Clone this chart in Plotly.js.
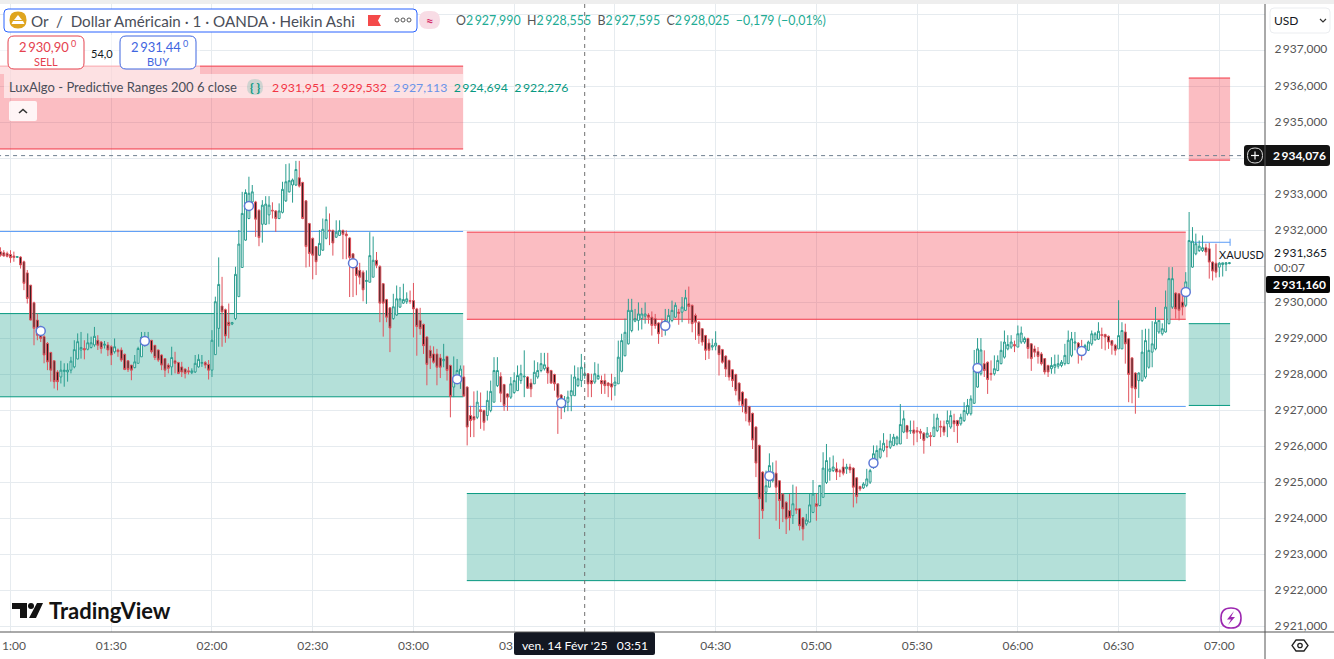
<!DOCTYPE html>
<html><head><meta charset="utf-8">
<script src="https://cdn.plot.ly/plotly-3.0.1.min.js"></script>
<style>html,body{margin:0;padding:0;background:#fff;overflow:hidden}#chart{width:1334px;height:659px}</style>
</head><body><div id="chart"></div>
<script>
// prices are stored as offsets from basePrice; each row is [open, high, low, close]
const basePrice = 2900;
const bars0057 = [[31.41,31.53,31.27,31.31],[31.38,31.45,31.27,31.29],[31.36,31.41,31.25,31.28],[31.33,31.45,31.10,31.24],[31.29,31.41,31.13,31.25],[31.25,31.28,31.25,31.27],[31.26,31.28,30.94,31.04],[31.13,31.16,30.34,30.53],[30.82,30.90,29.97,30.11],[30.48,30.48,29.50,29.51],[29.99,30.02,28.81,29.28],[29.51,29.69,28.95,29.09],[29.32,29.35,28.90,29.00],[29.05,29.09,28.31,28.54],[28.86,28.90,28.12,28.35],[28.61,28.63,27.80,28.12],[28.38,28.40,27.61,27.80],[28.07,28.12,27.56,27.80],[27.93,28.38,27.75,28.12],[28.08,28.31,27.66,28.12],[28.07,28.31,27.80,28.12],[28.12,28.49,28.03,28.37],[28.21,28.95,28.17,28.69],[28.43,29.14,28.42,28.91],[28.68,29.18,28.44,28.75],[28.72,28.95,28.42,28.68],[28.70,29.14,28.67,28.88],[28.75,29.05,28.72,28.88],[28.82,29.32,28.77,29.06],[28.95,29.09,28.68,28.81],[28.90,28.93,28.58,28.72],[28.81,28.93,28.72,28.84],[28.82,28.90,28.51,28.68]];
const bars0130 = [[28.77,28.81,28.26,28.54],[28.63,29.00,28.58,28.77],[28.68,28.72,28.49,28.63],[28.68,28.75,28.35,28.40],[28.56,28.58,28.12,28.14],[28.38,28.40,28.07,28.14],[28.26,28.26,27.84,28.12],[28.19,28.54,28.17,28.35],[28.31,28.77,28.31,28.72],[28.49,29.18,28.49,29.03],[28.81,29.18,28.77,29.00],[28.90,29.18,28.86,28.97],[28.95,28.95,28.58,28.63],[28.81,28.81,28.40,28.47],[28.68,28.69,28.35,28.40],[28.54,28.56,28.12,28.26],[28.44,28.44,27.93,28.12],[28.26,28.31,28.03,28.17],[28.21,28.77,27.98,28.47],[28.38,28.63,28.03,28.31],[28.33,28.35,28.01,28.03],[28.21,28.35,27.93,28.07],[28.15,28.17,27.89,28.03],[28.10,28.21,28.00,28.07],[28.05,28.17,28.01,28.10],[28.07,28.54,28.04,28.31],[28.21,28.56,28.19,28.42],[28.31,28.54,28.21,28.33],[28.33,28.37,28.17,28.26],[28.28,28.40,27.86,28.12]];
const bars0200 = [[28.12,29.23,27.93,28.95],[28.55,30.16,28.55,30.02],[29.28,31.25,28.77,30.50],[29.90,30.71,28.77,29.74],[29.80,29.83,28.88,29.07],[29.45,29.97,29.00,29.36],[29.40,29.46,29.37,29.44],[29.55,30.99,29.51,30.78],[30.16,32.01,30.16,31.62],[30.97,33.07,30.97,32.47],[31.73,33.14,31.71,33.05],[32.33,33.49,32.31,33.03],[32.79,33.26,32.75,33.07],[32.79,32.82,31.82,32.31],[32.56,32.58,31.56,31.80],[32.17,32.84,31.66,32.70],[32.17,32.95,32.15,32.73],[32.43,32.95,32.17,32.70],[32.56,32.78,32.33,32.54],[32.54,32.56,31.96,32.33],[32.33,32.75,32.31,32.54],[32.50,33.35,32.47,33.14],[32.82,33.84,32.79,33.35],[33.07,33.86,33.05,33.38],[33.26,33.44,32.77,33.40],[33.26,33.93,33.23,33.69],[33.46,33.93,33.19,33.23],[33.33,33.35,32.31,32.33],[32.82,32.84,30.97,31.55],[32.19,32.21,30.99,31.36]];
const bars0230 = [[31.78,31.80,30.64,31.31],[31.55,31.56,30.76,31.13],[31.31,32.01,31.29,31.64],[31.45,32.33,31.43,32.03],[31.78,32.66,31.75,32.30],[32.01,32.47,31.59,31.99],[32.00,32.02,31.30,31.65],[31.81,32.28,31.79,31.95],[31.86,32.28,31.86,32.00],[32.00,32.02,31.20,31.89],[31.90,32.00,31.20,31.85],[31.79,31.81,30.15,31.25],[31.35,31.35,30.15,31.20],[30.98,31.12,30.20,30.75],[30.89,31.10,30.50,30.70],[30.84,30.89,30.03,30.35],[30.58,30.89,29.96,30.61],[30.56,31.95,30.56,31.30],[30.70,31.83,30.70,31.17],[31.17,31.40,30.95,31.03],[31.00,31.03,29.45,29.98],[30.52,30.54,29.05,29.98],[30.08,30.10,29.45,29.59],[29.85,29.87,28.62,29.29],[29.55,30.24,29.52,29.88],[29.65,30.47,29.63,30.10],[29.87,30.43,29.85,30.10],[29.98,30.52,29.96,30.08],[30.02,30.28,29.96,30.10],[30.05,30.33,29.96,30.03]];
const bars0300 = [[30.05,30.54,29.03,29.82],[29.82,29.85,28.52,29.33],[29.50,29.85,29.10,29.27],[29.39,29.41,28.57,28.80],[29.04,29.06,27.70,28.28],[28.67,28.80,28.15,28.46],[28.57,28.78,28.30,28.34],[28.57,28.71,27.70,28.20],[28.46,28.57,27.90,28.20],[28.38,28.85,28.20,28.42],[28.50,28.52,27.83,28.11],[28.25,28.27,26.81,27.39],[27.65,28.50,27.37,27.90],[27.88,28.43,27.79,28.11],[27.93,28.25,27.60,28.15],[27.93,28.25,27.37,27.40],[27.65,27.67,26.03,26.54],[26.86,27.13,26.26,26.72],[26.83,27.53,26.26,26.74],[26.81,27.55,26.76,27.23],[27.02,27.50,26.49,26.97],[27.00,27.02,26.44,26.67],[26.86,27.55,26.72,27.28],[27.00,27.83,26.95,27.53],[27.23,28.48,27.23,28.11],[27.69,28.48,27.65,28.11],[27.94,28.06,27.23,27.48],[27.72,27.74,26.99,27.14],[27.46,27.48,26.99,27.37],[27.37,27.93,27.32,27.74]];
const bars0330 = [[27.50,28.06,27.46,27.83],[27.55,28.25,27.55,27.97],[27.83,28.27,27.74,28.02],[27.93,28.67,27.37,27.95],[27.93,27.95,27.60,27.62],[27.76,27.88,27.37,27.60],[27.74,28.39,27.74,28.06],[27.93,28.34,27.88,28.11],[28.11,28.60,28.06,28.30],[28.16,28.60,28.11,28.27],[28.20,28.60,27.74,28.04],[28.11,28.13,27.74,27.76],[28.00,28.02,27.55,27.74],[27.74,27.74,26.35,27.37],[27.43,27.45,26.76,27.25],[27.09,27.40,26.95,27.28],[27.23,27.55,26.98,27.37],[27.41,28.00,26.98,27.55],[27.41,28.25,27.41,27.93],[27.69,28.20,27.65,27.88],[27.83,28.57,27.65,28.20],[27.97,28.34,27.88,28.02],[28.02,28.04,27.37,27.74],[27.83,28.02,27.37,27.74],[27.79,28.34,27.74,28.02],[27.88,28.30,27.85,27.97],[27.83,27.97,27.46,27.74],[27.83,28.02,27.46,27.69],[27.76,27.79,27.37,27.69],[27.74,28.02,27.28,27.65]];
const bars0400 = [[27.69,27.93,27.41,27.79],[27.74,28.94,27.74,28.48],[28.09,29.13,28.06,28.94],[28.52,29.55,28.50,29.17],[28.85,30.10,28.83,29.78],[29.22,30.10,29.17,29.78],[29.48,29.82,29.45,29.55],[29.50,30.00,29.22,29.68],[29.55,29.85,29.25,29.68],[29.62,30.00,29.41,29.68],[29.65,29.70,29.41,29.59],[29.59,29.75,29.08,29.36],[29.55,29.68,29.27,29.36],[29.43,29.45,28.85,29.13],[29.45,29.55,29.04,29.36],[29.31,29.82,29.08,29.50],[29.45,29.82,29.42,29.64],[29.50,30.05,29.45,29.78],[29.59,30.00,29.57,29.92],[29.73,29.82,29.38,29.70],[29.73,30.15,29.45,29.87],[29.78,30.35,29.76,30.13],[29.96,30.44,29.41,29.89],[29.92,29.94,29.17,29.41],[29.64,29.69,28.96,29.45],[29.45,29.48,28.85,29.08],[29.27,29.29,28.80,28.90],[29.08,29.10,28.40,28.67],[28.87,28.99,28.43,28.67],[28.76,28.99,28.67,28.80]];
const bars0430 = [[28.79,29.20,28.67,28.87],[28.80,28.82,27.97,28.55],[28.69,28.71,28.30,28.34],[28.51,28.53,27.93,28.15],[28.39,28.41,27.83,27.93],[28.13,28.15,27.65,27.83],[28.00,28.02,27.42,27.55],[27.76,27.78,27.14,27.26],[27.51,27.53,26.95,27.14],[27.32,27.34,26.70,26.92],[27.11,27.13,26.58,26.68],[26.92,26.94,25.93,26.18],[26.54,26.56,25.15,25.54],[26.03,26.05,23.43,24.55],[25.29,25.31,23.99,24.22],[24.73,25.33,24.45,24.91],[24.87,25.81,24.87,25.47],[25.05,25.56,25.00,25.28],[25.26,25.61,23.94,24.87],[25.05,25.07,23.71,24.50],[24.68,24.70,23.90,24.27],[24.45,24.48,23.57,23.99],[24.22,24.68,23.67,24.02],[24.08,24.94,23.85,24.41],[24.27,24.89,24.13,24.24],[24.27,24.29,23.67,23.80],[24.02,24.04,23.39,23.71],[23.85,24.13,23.80,23.96],[23.90,24.68,23.90,24.38],[24.17,25.07,24.15,24.68]];
const bars0500 = [[24.41,24.70,23.94,24.34],[24.36,24.92,24.34,24.92],[24.59,25.84,24.59,25.40],[25.00,26.07,24.96,25.61],[25.31,25.70,25.05,25.38],[25.33,25.75,25.29,25.43],[25.38,25.56,25.07,25.29],[25.33,25.38,25.15,25.29],[25.43,25.66,25.20,25.26],[25.38,25.52,25.24,25.43],[25.43,25.52,25.26,25.35],[25.40,25.42,24.31,24.87],[25.13,25.15,24.42,24.61],[24.89,24.91,24.76,24.82],[24.85,25.01,24.82,24.96],[24.92,25.38,24.87,25.10],[25.01,25.38,24.96,25.33],[25.43,26.03,25.38,25.80],[25.61,26.03,25.56,25.89],[25.70,26.17,25.66,25.94],[25.89,26.37,25.84,26.09],[26.00,26.19,25.70,25.98],[25.98,26.35,25.93,26.15],[26.03,26.35,26.01,26.26],[26.07,26.30,26.03,26.26],[26.07,27.18,26.07,26.61],[26.40,27.00,26.37,26.77],[26.58,26.60,26.21,26.40],[26.43,26.72,26.35,26.44],[26.46,26.72,26.03,26.37]];
const bars0530 = [[26.44,26.54,26.12,26.40],[26.42,26.49,26.21,26.37],[26.37,26.40,25.80,26.17],[26.26,26.54,26.23,26.37],[26.30,26.40,26.01,26.28],[26.28,26.91,26.26,26.54],[26.44,26.91,26.40,26.79],[26.56,26.72,26.26,26.54],[26.56,26.72,26.30,26.40],[26.63,27.00,26.26,26.72],[26.54,27.00,26.49,26.86],[26.72,26.91,26.40,26.63],[26.72,26.74,26.10,26.58],[26.63,26.91,26.58,26.81],[26.72,27.23,26.68,27.00],[26.91,27.32,26.86,27.14],[26.91,27.42,26.86,27.32],[27.20,28.68,27.18,28.11],[27.65,29.01,27.63,28.71],[28.02,29.01,27.97,28.68],[28.30,28.67,27.93,28.11],[28.34,28.36,27.46,27.86],[28.03,28.39,27.83,28.00],[28.02,28.53,27.97,28.16],[28.11,28.53,28.09,28.39],[28.30,28.92,28.28,28.67],[28.48,29.22,28.44,28.90],[28.71,29.09,28.67,28.83],[28.76,29.09,28.71,28.90],[28.83,28.94,28.62,28.79]];
const bars0600 = [[28.76,29.36,28.76,29.13],[28.90,29.33,28.85,29.15],[28.90,29.05,28.85,29.00],[29.00,29.02,28.44,28.72],[28.85,28.87,28.10,28.44],[28.71,28.80,28.48,28.62],[28.64,28.76,28.30,28.50],[28.57,28.62,28.25,28.30],[28.44,28.45,28.00,28.07],[28.25,28.27,27.93,28.07],[28.16,28.48,28.02,28.25],[28.20,28.55,28.02,28.28],[28.23,28.55,28.16,28.30],[28.25,28.40,28.20,28.34],[28.30,28.85,28.25,28.53],[28.30,29.22,28.30,28.95],[28.53,29.18,28.48,28.99],[28.87,29.18,28.67,28.90],[28.87,28.90,28.30,28.71],[28.76,28.96,28.39,28.67],[28.67,28.85,28.60,28.80],[28.67,28.94,28.65,28.90],[28.85,29.22,28.80,29.13],[28.96,29.18,28.94,29.13],[28.98,29.45,28.96,29.20],[29.11,29.30,28.71,29.08],[29.11,29.13,28.67,29.04],[29.06,29.08,28.71,28.90],[28.94,28.96,28.55,28.81],[28.81,28.85,28.53,28.67]];
const bars0630 = [[28.71,30.06,28.71,29.08],[28.71,29.45,28.71,29.22],[29.18,29.41,28.30,28.85],[28.99,29.01,27.23,28.00],[28.46,28.48,27.20,27.63],[28.04,28.06,26.91,27.60],[27.83,28.06,27.35,28.04],[27.83,29.24,27.79,28.62],[27.93,29.27,27.88,28.94],[28.20,29.27,28.16,28.67],[28.62,29.48,28.20,28.85],[28.71,29.87,28.67,29.45],[29.18,29.50,29.13,29.50],[29.13,29.42,29.08,29.27],[29.18,30.33,29.16,29.87],[29.41,30.98,29.39,30.66],[29.87,30.98,29.82,30.66],[30.26,30.28,29.55,29.82],[30.24,30.26,29.50,29.78],[30.01,30.26,29.64,29.87],[29.92,30.84,29.87,30.57],[30.33,32.51,30.29,31.72],[30.98,32.09,30.96,31.70],[31.35,31.91,31.31,31.63],[31.44,31.72,31.40,31.56],[31.44,31.86,31.40,31.52],[31.52,31.63,31.30,31.40],[31.49,31.65,30.66,31.12],[31.12,31.14,30.61,30.87],[31.09,31.63,30.69,30.84],[30.98,31.12,30.70,31.09],[31.05,31.10,30.72,31.10],[31.06,31.12,30.87,31.10],[31.08,31.12,31.06,31.10]];
const firstMinute = -3; // minutes after 01:00 of the first bar

// LuxAlgo ranges: [first window, second window, live window]
const rangeStart = [-4, 135.9, 350.9];
const rangeEnd = [134.8, 350.0, 363.2];
const upper2 = [2936.56, 2931.951, 2936.23];
const upper1 = [2934.26, 2929.532, 2933.95];
const average = [2931.97, 2927.113, 2931.67];
const lower1 = [2929.69, 2924.694, 2929.41];
const lower2 = [2927.38, 2922.276, 2927.14];

// interval markers
const markerMinutes = [9, 40, 71, 102, 133, 164, 195, 226, 257, 288, 319, 350];
const markerPrices = [2929.21, 2928.93, 2932.68, 2931.09, 2927.87, 2927.21, 2929.35, 2925.18, 2925.54, 2928.18, 2928.65, 2930.29];

const yTickValues = [2921,2922,2923,2924,2925,2926,2927,2928,2929,2930,2932,2933,2935,2936,2937];
const yTickLabels = ['2\u2009921,000','2\u2009922,000','2\u2009923,000','2\u2009924,000','2\u2009925,000','2\u2009926,000','2\u2009927,000','2\u2009928,000','2\u2009929,000','2\u2009930,000','2\u2009932,000','2\u2009933,000','2\u2009935,000','2\u2009936,000','2\u2009937,000'];
const yGridOnly = [2931,2934,2938];
const xTickValues = [30,60,90,120,210,240,270,300,330,360];
const xTickLabels = ['01:30','02:00','02:30','03:00','04:30','05:00','05:30','06:00','06:30','07:00'];
const xGridOnly = [0,150,180];

const crossMinute = 171;
const crossPrice = 2934.076;

const rows = [].concat(bars0057,bars0130,bars0200,bars0230,bars0300,bars0330,bars0400,bars0430,bars0500,bars0530,bars0600,bars0630);
const minutes = rows.map((r,i)=>firstMinute+i);
const openS = rows.map(r=>basePrice+r[0]), highS = rows.map(r=>basePrice+r[1]), lowS = rows.map(r=>basePrice+r[2]), closeS = rows.map(r=>basePrice+r[3]);

const FONT = 'Lato, "Noto Sans", sans-serif';
const plotW = 1265, plotTop = 4, plotBot = 632;
const px = x => x/plotW, py = y => 1-(y-plotTop)/(plotBot-plotTop);

function rr(x0,y0,x1,y1,r,fill,line,lw){
  const X0=px(x0),X1=px(x1),Y0=py(y0),Y1=py(y1),rx=r/plotW,ry=r/(plotBot-plotTop);
  return {type:'path',xref:'paper',yref:'paper',layer:'above',fillcolor:fill||'rgba(0,0,0,0)',line:{color:line||'rgba(0,0,0,0)',width:lw===undefined?1:lw},
    path:`M${X0+rx},${Y0} L${X1-rx},${Y0} Q${X1},${Y0} ${X1},${Y0-ry} L${X1},${Y1+ry} Q${X1},${Y1} ${X1-rx},${Y1} L${X0+rx},${Y1} Q${X0},${Y1} ${X0},${Y1+ry} L${X0},${Y0-ry} Q${X0},${Y0} ${X0+rx},${Y0} Z`};
}
function circle(cx,cy,r,fill,line,lw){ return rr(cx-r,cy-r,cx+r,cy+r,r*0.98,fill,line,lw); }
function poly(pts,fill,line,lw){
  const d = pts.map((p,i)=>(i?'L':'M')+px(p[0])+','+py(p[1])).join(' ')+(fill?' Z':'');
  return {type:'path',xref:'paper',yref:'paper',layer:'above',fillcolor:fill||'rgba(0,0,0,0)',line:{color:line||'rgba(0,0,0,0)',width:lw||0},path:d};
}
function box(x0,y0,x1,y1,fill){ return {type:'rect',xref:'paper',yref:'paper',layer:'above',x0:px(x0),x1:px(x1),y0:py(y0),y1:py(y1),fillcolor:fill,line:{width:0}}; }
function label(text,x,y,size,color,anchor,extra){
  return Object.assign({xref:'paper',yref:'paper',x:px(x),y:py(y),text,showarrow:false,xanchor:anchor||'left',yanchor:'middle',
    font:{family:FONT,size,color},borderpad:0,borderwidth:0},extra||{});
}

const RED='#F23645',GREEN='#089981',BLUE='#5B9CF6',TEAL='#2A9D8F',VAL='#22AB94';
const shapes=[];
for(let i=0;i<rangeStart.length;i++){
  const hl=(y,c)=>({type:'line',layer:'between',xref:'x',yref:'y',x0:rangeStart[i],x1:rangeEnd[i],y0:y,y1:y,line:{color:c,width:1}});
  shapes.push({type:'rect',layer:'between',xref:'x',yref:'y',x0:rangeStart[i],x1:rangeEnd[i],y0:upper1[i],y1:upper2[i],fillcolor:'rgba(242,54,69,0.33)',line:{width:0}});
  shapes.push({type:'rect',layer:'between',xref:'x',yref:'y',x0:rangeStart[i],x1:rangeEnd[i],y0:lower2[i],y1:lower1[i],fillcolor:'rgba(8,153,129,0.30)',line:{width:0}});
  shapes.push(hl(upper2[i],RED),hl(upper1[i],RED),hl(lower1[i],GREEN),hl(lower2[i],GREEN),hl(average[i],BLUE));
}
// end cap of the live average line
shapes.push({type:'line',layer:'between',xref:'x',yref:'y',x0:rangeEnd[2],x1:rangeEnd[2],y0:average[2]-0.1,y1:average[2]+0.1,line:{color:BLUE,width:1}});
// crosshair
shapes.push({type:'line',layer:'above',xref:'x',yref:'paper',x0:crossMinute,x1:crossMinute,y0:0,y1:1,line:{color:'#6f6f6f',width:1,dash:'4px,4px'}});
shapes.push({type:'line',layer:'above',xref:'x',yref:'y',x0:-4,x1:368,y0:crossPrice,y1:crossPrice,line:{color:'#6f7f8f',width:1,dash:'4px,4px'}});
// top band
shapes.push(box(0,0,1334,4,'#EEEEEE'));
// legend panels
shapes.push(box(0,35,200,74,'rgba(255,255,255,0.55)'));
shapes.push(box(4,74,463,98,'rgba(255,255,255,0.55)'));
shapes.push(rr(4,9,417,32,4,'#fff','#2962FF',1));
shapes.push(circle(18,20,8.5,'#DFA51E'));
shapes.push(poly([[18,15],[22,20],[14,20]],'#fff'));
shapes.push(poly([[13,21],[23,21],[24.5,24],[11.5,24]],'#fff'));
shapes.push(poly([[368,15],[381,15],[378,20.5],[381,26],[368,26]],'#F44A4A'));
[397,403,409].forEach(c=>shapes.push(circle(c,20,2,'#fff','#555',1)));
shapes.push(rr(419,11,440,29,9,'#F8DCE5'));
shapes.push(rr(8,36,84,69,6,'#fff','#E5424F',1));
shapes.push(rr(120,36,196,69,6,'#fff','#3F66E0',1));
shapes.push(circle(255,87,8,'rgba(8,153,129,0.18)'));
shapes.push(rr(9,101,37,121,2,'rgba(255,255,255,0.85)'));
shapes.push(poly([[19,113],[23,109.5],[27,113]],null,'#333',1.6));
// right scale widgets
shapes.push(rr(1270,8,1330,33,4,'#fff','#EBEDF0',1));
shapes.push(poly([[1320,19],[1323,22],[1326,19]],null,'#333',1.2));
shapes.push(rr(1244,145,1330,166,3,'#131313'));
shapes.push(circle(1255,155.5,7.5,'rgba(0,0,0,0)','#DDD',1));
shapes.push(poly([[1251,155.5],[1259,155.5]],null,'#fff',1.2));
shapes.push(poly([[1255,151.5],[1255,159.5]],null,'#fff',1.2));
shapes.push(rr(1266,276,1330,293,2,'#050505'));
// logo
shapes.push(poly([[12,603],[27,603],[27,618],[20,618],[20,609],[12,609]],'#131313'));
shapes.push(circle(31,606,3,'#131313'));
shapes.push(poly([[37,603],[43,603],[36,618],[29,618]],'#131313'));
// lightning badge
shapes.push(circle(1231,618,10,'#fff','#9C27B0',1.6));
shapes.push(poly([[1234,611],[1227,619.5],[1231,619.5],[1228,625],[1235,617],[1231,617]],'#9C27B0'));
// settings glyph
shapes.push(poly([[1296,640],[1304,640],[1308,645.5],[1304,651],[1296,651],[1292,645.5]],'#fff','#222',1.3));
shapes.push(circle(1300,645.5,2.2,'#fff','#222',1.3));
// date tag
shapes.push(rr(514,632,655,655,2,'#131722'));
// axis lines
shapes.push(poly([[1265,4],[1265,659]],null,'#555',1));
shapes.push(poly([[0,632],[1334,632]],null,'#555',1));

const v=(s,c)=>`<span style="color:${c}">${s}</span>`;
const annotations=[
  label('Or  /  Dollar Américain · 1 · OANDA · Heikin Ashi',31,20.5,15.2,'#4A4E59'),
  label('<b>≈</b>',429.5,20.5,13,'#D6336C','center'),
  label(v('O','#555')+v('2\u2009927,990',VAL)+'  '+v('H','#555')+v('2\u2009928,555',VAL)+'  '+v('B','#555')+v('2\u2009927,595',VAL)+'  '+v('C','#555')+v('2\u2009928,025',VAL)+'  '+v('−0,179 (−0,01%)',VAL),456,20.5,12.4,'#555'),
  label('2\u2009930,90',19,46.5,13,'#E5424F'),
  label('0',71,44,9,'#E5424F'),
  label('SELL',46,61,11,'#E5424F','center'),
  label('54,0',102,54,11,'#131722','center'),
  label('2\u2009931,44',131,46.5,13,'#3F66E0'),
  label('0',183,44,9,'#3F66E0'),
  label('BUY',158,61,11,'#3F66E0','center'),
  label('LuxAlgo - Predictive Ranges 200 6 close',9,87,13,'#4A4E59'),
  label('<b>{ }</b>',255,87,12,'#089981','center'),
  label(v('2\u2009931,951',RED)+'  '+v('2\u2009929,532',RED)+'  '+v('2\u2009927,113','#6A93E8')+'  '+v('2\u2009924,694',GREEN)+'  '+v('2\u2009922,276',GREEN),272,87,12.3,'#555'),
  label('USD',1274,20.5,12,'#131722'),
  label('<b>2\u2009934,076</b>',1273,155.5,12,'#fff'),
  label('XAUUSD',1219,254,11,'#131722'),
  label('2\u2009931,365',1274,253,12,'#131722'),
  label('00:07',1274,267,12,'#555'),
  label('<b>2\u2009931,160</b>',1273,284.5,12,'#fff'),
  {xref:'paper',yref:'paper',x:px(47),y:py(610.5),text:'<b>TradingView</b>',showarrow:false,xanchor:'left',yanchor:'middle',font:{family:'Lato, sans-serif',size:22,color:'#131313'}},
  label('ven. 14 Févr \'25   03:51',584.5,645,12.2,'#fff','center'),
  label('1:00',2,645,12,'#555'),
  label('03',513,645,12,'#555','right'),
];

const traces=[
  {type:'candlestick',x:minutes,open:openS,high:highS,low:lowS,close:closeS,whiskerwidth:0,hoverinfo:'skip',
   increasing:{line:{color:TEAL,width:1},fillcolor:'#ffffff'},
   decreasing:{line:{color:'#E0525C',width:1},fillcolor:'#141414'}},
  {type:'scatter',mode:'markers',x:markerMinutes,y:markerPrices,hoverinfo:'skip',
   marker:{symbol:'circle',size:9,color:'#fff',line:{color:'#5D79D6',width:1.5}}}
];
const layout={
  width:1334,height:659,paper_bgcolor:'#fff',plot_bgcolor:'#fff',showlegend:false,hovermode:false,dragmode:false,boxgap:0.2,
  margin:{l:0,r:69,t:4,b:27,pad:0},font:{family:FONT,color:'#555'},
  xaxis:{type:'linear',range:[-3.127,373.6],tickmode:'array',tickvals:xTickValues,ticktext:xTickLabels,
    minor:{tickmode:'array',tickvals:xGridOnly,showgrid:true,gridcolor:'#E6EBEF',gridwidth:1,ticks:''},
    tickfont:{family:FONT,size:12,color:'#555'},showgrid:true,gridcolor:'#E6EBEF',gridwidth:1,zeroline:false,
    showline:false,ticks:'outside',ticklen:3,tickcolor:'rgba(0,0,0,0)',rangeslider:{visible:false},fixedrange:true},
  yaxis:{type:'linear',side:'right',range:[2920.85,2938.285],tickmode:'array',tickvals:yTickValues,ticktext:yTickLabels,ticklabelshift:-1,
    minor:{tickmode:'array',tickvals:yGridOnly,showgrid:true,gridcolor:'#E6EBEF',gridwidth:1,ticks:''},
    tickfont:{family:FONT,size:12,color:'#555'},showgrid:true,gridcolor:'#E6EBEF',gridwidth:1,zeroline:false,
    showline:false,ticks:'outside',ticklen:6,tickcolor:'rgba(0,0,0,0)',fixedrange:true},
  shapes,annotations
};
Plotly.newPlot('chart',traces,layout,{displayModeBar:false,staticPlot:true,responsive:false});
</script></body></html>
